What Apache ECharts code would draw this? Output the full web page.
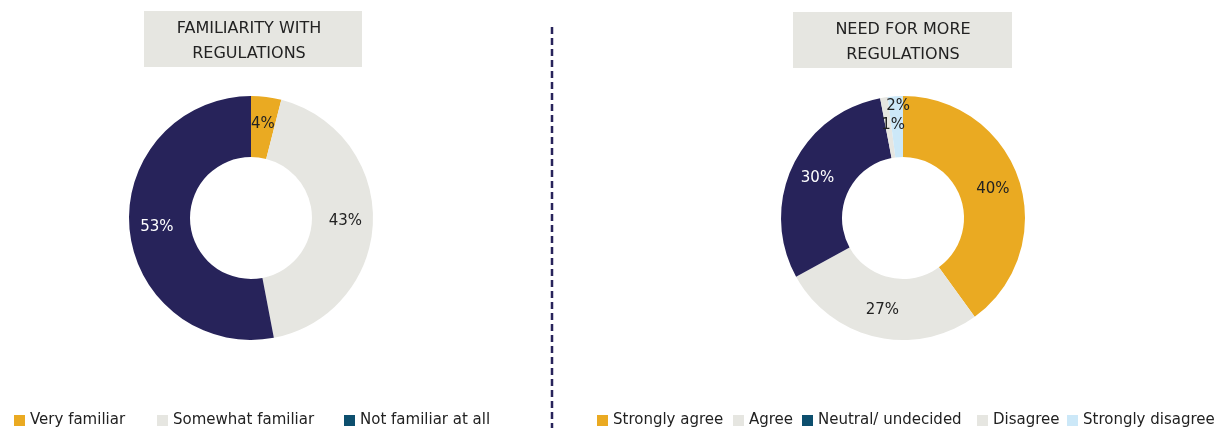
<!DOCTYPE html>
<html>
<head>
<meta charset="utf-8">
<style>
  html, body { margin: 0; padding: 0; background: #ffffff; }
  #chart { width: 1223px; height: 430px; }
</style>
<script src="https://cdn.jsdelivr.net/npm/echarts@6/dist/echarts.min.js"></script>
</head>
<body>
<div id="chart"></div>
<script>
// Survey results: familiarity with regulations, and the perceived need for more.
const familiarityCategories = ['Very familiar', 'Somewhat familiar', 'Not familiar at all'];
const familiarityValues = [4, 43, 53];

const needCategories = ['Strongly agree', 'Agree', 'Neutral/ undecided', 'Disagree', 'Strongly disagree'];
const needValues = [40, 27, 30, 1, 2];

const chartTitles = ['FAMILIARITY WITH\nREGULATIONS', 'NEED FOR MORE\nREGULATIONS'];

// Styling
const FONT = '"DejaVu Sans", "Noto Sans", sans-serif';
const TEXT = '#222222';
const ORANGE = '#eaaa22';
const GREY = '#e6e6e1';
const NAVY = '#27235a';
const TEAL = '#0d4f6e';
const SKY = '#cce8f8';

const familiaritySliceColors = [ORANGE, GREY, NAVY];
const familiarityLabelColors = [TEXT, TEXT, '#ffffff'];
const familiarityLegendColors = [ORANGE, GREY, TEAL];
const familiarityLegendIconX = [14, 157, 344];

const needSliceColors = [ORANGE, GREY, NAVY, GREY, SKY];
const needLabelColors = [TEXT, TEXT, '#ffffff', TEXT, TEXT];
const needLegendColors = [ORANGE, GREY, TEAL, GREY, SKY];
const needLegendIconX = [597, 733, 802, 977, 1067];

const LEGEND_PADDING = 5;

function pieData(names, values, sliceColors, labelColors, extra) {
  return names.map((name, i) => {
    const item = {
      name: name,
      value: values[i],
      itemStyle: { color: sliceColors[i] },
      label: { color: labelColors[i] }
    };
    if (extra && extra[i]) Object.assign(item.label, extra[i]);
    return item;
  });
}

function pieSeries(name, center, data) {
  return {
    name: name,
    type: 'pie',
    center: center,
    radius: [61, 122],
    startAngle: 90,
    clockwise: true,
    avoidLabelOverlap: false,
    silent: true,
    label: {
      show: true,
      position: 'inside',
      formatter: '{c}%',
      fontFamily: FONT,
      fontSize: 15,
      overflow: 'none',
      width: 60
    },
    labelLine: { show: false },
    emphasis: { disabled: true },
    data: data
  };
}

// One legend block per entry so every key sits at its own spot along the bottom.
function legendItems(names, colors, iconX) {
  return names.map((name, i) => ({
    left: iconX[i] - LEGEND_PADDING,
    top: 408,
    padding: LEGEND_PADDING,
    orient: 'horizontal',
    icon: 'rect',
    itemWidth: 11,
    itemHeight: 11,
    selectedMode: false,
    textStyle: { fontFamily: FONT, fontSize: 15, color: TEXT },
    data: [{ name: name, itemStyle: { color: colors[i] } }]
  }));
}

function titleBox(x, y, w, h, textX, text) {
  return {
    type: 'group',
    children: [
      { type: 'rect', shape: { x: x, y: y, width: w, height: h }, style: { fill: GREY } },
      {
        type: 'text',
        x: textX,
        y: y + h / 2 + 2,
        style: {
          text: text,
          fill: TEXT,
          font: '16px ' + FONT,
          align: 'center',
          verticalAlign: 'middle',
          lineHeight: 25
        }
      }
    ]
  };
}

const chart = echarts.init(document.getElementById('chart'), null, { renderer: 'canvas' });

chart.setOption({
  animation: false,
  backgroundColor: '#ffffff',
  legend: [
    ...legendItems(familiarityCategories, familiarityLegendColors, familiarityLegendIconX),
    ...legendItems(needCategories, needLegendColors, needLegendIconX)
  ],
  graphic: [
    titleBox(144, 11, 218, 56, 249, chartTitles[0]),
    titleBox(793, 12, 219, 56, 903, chartTitles[1]),
    {
      type: 'line',
      shape: { x1: 552, y1: 27, x2: 552, y2: 428 },
      style: { stroke: NAVY, lineWidth: 2.5, lineDash: [7, 4] }
    }
  ],
  series: [
    pieSeries('Familiarity', [251, 218],
      pieData(familiarityCategories, familiarityValues, familiaritySliceColors, familiarityLabelColors)),
    pieSeries('Need for more regulations', [903, 218],
      pieData(needCategories, needValues, needSliceColors, needLabelColors,
        [null, null, null, { offset: [5, 0] }, { offset: [1, -18] }]))
  ]
});
</script>
</body>
</html>
